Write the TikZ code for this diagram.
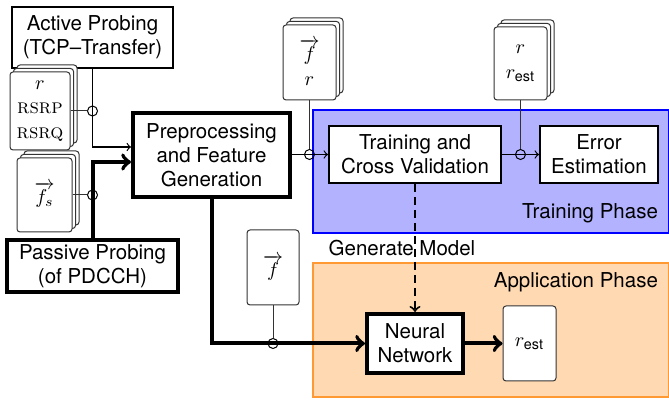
\documentclass[tikz,border=0pt]{standalone}
\usepackage{amsmath}
\usepackage{fontspec}
\setsansfont{TeX Gyre Heros}
\usetikzlibrary{shadows}

\begin{document}
\begin{tikzpicture}[x=0.5pt, y=-0.5pt,
  every node/.style={font=\sffamily\fontsize{10.25}{12}\selectfont},
  stage/.style={draw, fill=white, line width=1pt, align=center, inner sep=0pt},
  bigstage/.style={stage, line width=2pt},
  page/.style={draw=black!80, fill=white, line width=0.5pt, rounded corners=1.5pt,
    align=center, inner sep=0pt, font=\rmfamily\fontsize{10.25}{12.25}\selectfont},
  pages/.style={page,
    copy shadow={shadow xshift=3.5pt, shadow yshift=3.5pt, draw=black!80, fill=white, line width=0.5pt},
    copy shadow={shadow xshift=1.75pt, shadow yshift=1.75pt, draw=black!80, fill=white, line width=0.5pt}},
  junc/.style={draw, circle, minimum size=5pt, inner sep=0pt, line width=0.5pt},
  link/.style={draw=black!80, line width=0.5pt},
  flow/.style={->, line width=0.6pt},
  bigflow/.style={->, line width=2pt}]
  \useasboundingbox (0,0) rectangle (669,400);
  \filldraw [fill=blue!30, draw=blue, line width=0.6pt] (313,110) rectangle (668.5,233);
  \filldraw [fill=orange!30, draw=orange!80, line width=0.6pt] (313,263) rectangle (668.5,397);
  \node [anchor=east] (trainlbl) at (665,213) {Training Phase};
  \node [anchor=east] (applbl) at (665,282) {Application Phase};
  \node (genlbl) at (402,248) {Generate Model};

  \node [stage, minimum width=80.5pt, minimum height=30.5pt] (active) at (92.5,37.5) {Active Probing\\(TCP--Transfer)};
  \node [bigstage, minimum width=85.5pt, minimum height=26pt] (passive) at (92.5,266) {Passive Probing\\(of PDCCH)};
  \node [bigstage, minimum width=78.5pt, minimum height=42pt] (prep) at (211.5,155) {Preprocessing\\and Feature\\Generation};
  \node [stage, minimum width=86pt, minimum height=28.5pt] (train) at (415,154.5) {Training and\\Cross Validation};
  \node [stage, minimum width=59pt, minimum height=28.5pt] (error) at (599,154.5) {Error\\Estimation};
  \node [bigstage, minimum width=48pt, minimum height=29.5pt] (nn) at (415,343.5) {Neural\\Network};

  \node [pages, minimum width=30pt, minimum height=39pt] (meas) at (40,111) {$r$\\\textsc{rsrp}\\\textsc{rsrq}};
  \node [pages, minimum width=27.5pt, minimum height=37pt] (pdcch) at (44.5,195) {$\overrightarrow{f_s}$};
  \node [pages, minimum width=26.5pt, minimum height=37.5pt] (trainset) at (309.5,62.5) {$\overrightarrow{f}$\\$r$};
  \node [pages, minimum width=26.5pt, minimum height=36.5pt] (evalset) at (520.5,63.5) {$r$\\$r_{\text{\sffamily est}}$};
  \node [page, minimum width=26pt, minimum height=37.5pt] (feat) at (273,267.5) {$\overrightarrow{f}$};
  \node [page, minimum width=26.5pt, minimum height=37.5pt] (rout) at (529.5,343.5) {$r_{\text{\sffamily est}}$};

  \node [junc] (j1) at (active.south |- meas.east) {};
  \node [junc] (j2) at (passive.north |- pdcch.east) {};
  \node [junc] (j3) at (trainset.south |- train.west) {};
  \node [junc] (j4) at (evalset.south |- error.west) {};
  \node [junc] (j5) at (feat.south |- nn.west) {};

  \draw [flow] (active.south) |- ([yshift=4pt]prep.west);
  \draw [bigflow] (passive.north) |- ([yshift=-3.5pt]prep.west);
  \draw [link] (meas.east) -- (j1);
  \draw [link] (pdcch.east) -- (j2);
  \draw [flow] (train.west -| prep.east) -- (train.west);
  \draw [link] (trainset.south) -- (j3);
  \draw [flow] (train.east) -- (error.west);
  \draw [link] (evalset.south) -- (j4);
  \draw [bigflow] (prep.south) |- (nn.west);
  \draw [link] (feat.south) -- (j5);
  \draw [bigflow] (nn.east) -- (rout.west);
  \draw [->, line width=1pt, dash pattern=on 4pt off 2.5pt] (train.south) -- (nn.north);
\end{tikzpicture}
\end{document}
